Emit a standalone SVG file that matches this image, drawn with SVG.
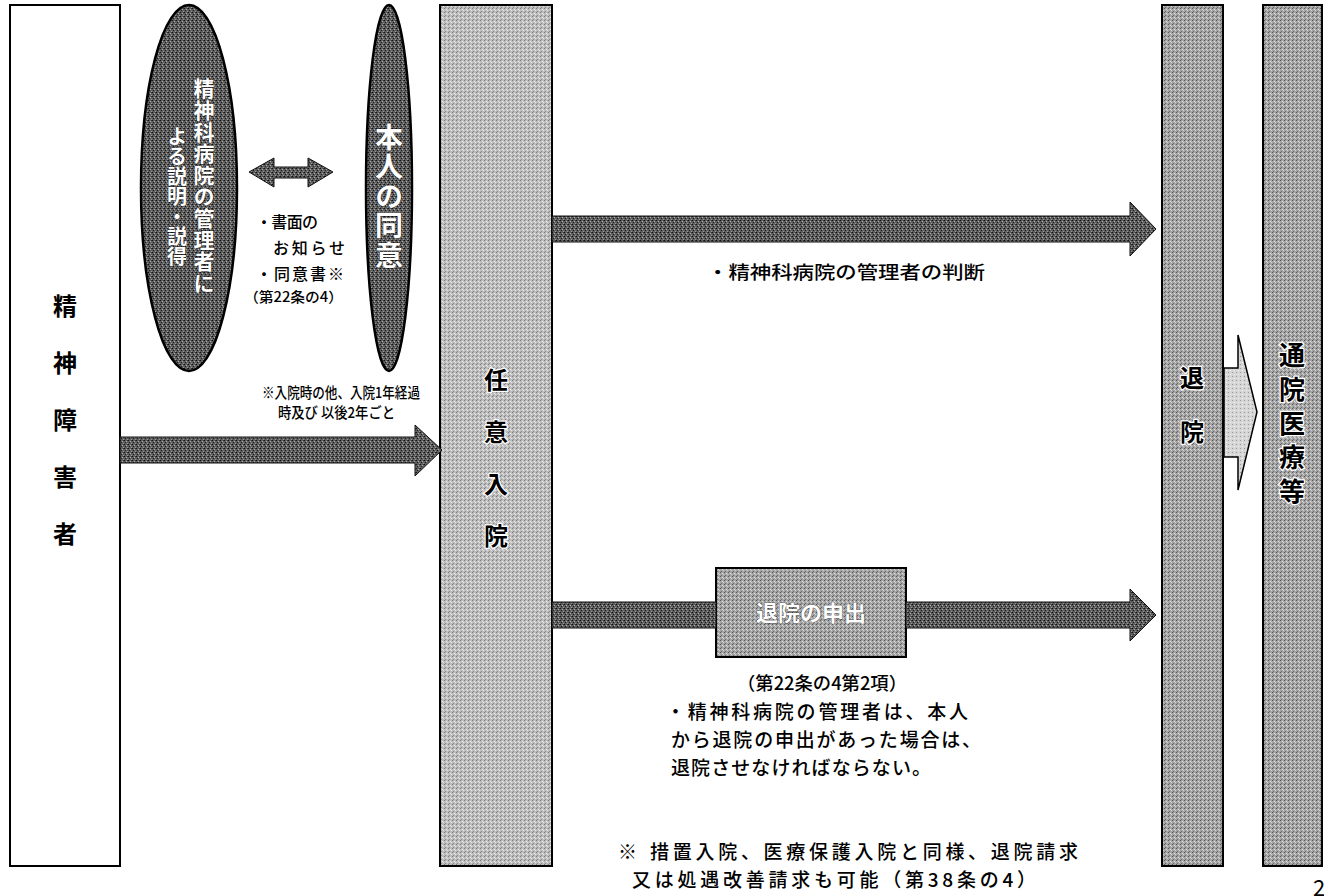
<svg xmlns="http://www.w3.org/2000/svg" width="1324" height="896" viewBox="0 0 1324 896">
<defs>
<pattern id="pDark" width="4" height="4" patternUnits="userSpaceOnUse">
<rect width="4" height="4" fill="#5e5e5e"/>
<rect x="0" y="0" width="1" height="1" fill="#111"/>
<rect x="2" y="1" width="1" height="1" fill="#b0b0b0"/>
<rect x="1" y="2" width="1" height="1" fill="#1c1c1c"/>
<rect x="3" y="3" width="1" height="1" fill="#9a9a9a"/>
<rect x="3" y="0" width="1" height="1" fill="#333"/>
</pattern>
<pattern id="pMid" width="4" height="4" patternUnits="userSpaceOnUse">
<rect width="4" height="4" fill="#a4a4a4"/>
<rect x="0" y="0" width="1" height="1" fill="#5a5a5a"/>
<rect x="2" y="1" width="1" height="1" fill="#e0e0e0"/>
<rect x="1" y="3" width="1" height="1" fill="#6a6a6a"/>
<rect x="3" y="2" width="1" height="1" fill="#d0d0d0"/>
</pattern>
<pattern id="pLight" width="4" height="4" patternUnits="userSpaceOnUse">
<rect width="4" height="4" fill="#bdbdbd"/>
<rect x="0" y="0" width="1" height="1" fill="#7a7a7a"/>
<rect x="2" y="1" width="1" height="1" fill="#eeeeee"/>
<rect x="1" y="3" width="1" height="1" fill="#8a8a8a"/>
<rect x="3" y="2" width="1" height="1" fill="#e4e4e4"/>
</pattern>
<pattern id="pPale" width="4" height="4" patternUnits="userSpaceOnUse">
<rect width="4" height="4" fill="#d6d6d6"/>
<rect x="0" y="0" width="1" height="1" fill="#999"/>
<rect x="2" y="2" width="1" height="1" fill="#f4f4f4"/>
</pattern>
</defs>
<style>
.t{font-family:"Noto Sans CJK JP","Noto Sans CJK SC",sans-serif;fill:#000;}
.m{font-weight:500;}
.b{font-weight:bold;}
.v{writing-mode:vertical-rl;text-anchor:middle;}
.w{fill:#fff;stroke:#000;stroke-width:0.5;paint-order:stroke;font-weight:bold;}
.k{fill:#000;stroke:#fff;stroke-width:2.5;paint-order:stroke;font-weight:bold;}
.box{stroke:#000;stroke-width:2;}
.arr{fill:url(#pDark);stroke:#111;stroke-width:1;}
</style>

<g id="node-seishin-shogaisha">
<rect class="box" x="10" y="5" width="110" height="861" fill="#fff" stroke-width="1.5"/>
<text class="t b v" font-size="24" letter-spacing="33" x="65" y="436">精神障害者</text>
</g>

<g id="node-setsumei">
<ellipse cx="189" cy="188" rx="48" ry="183" fill="url(#pDark)" stroke="#000" stroke-width="2.5"/>
<text class="t w v" font-size="21" letter-spacing="0.6" x="204" y="186">精神科病院の管理者に</text>
<text class="t w v" font-size="20" x="177" y="196">よる説明・説得</text>
</g>

<g id="node-honnin-doui">
<ellipse cx="389" cy="188" rx="23" ry="183" fill="url(#pDark)" stroke="#000" stroke-width="2.5"/>
<text class="t w v" font-size="28" letter-spacing="1.5" x="389" y="197">本人の同意</text>
</g>

<g id="node-nini-nyuin">
<rect class="box" x="440" y="5" width="112" height="861" fill="url(#pLight)"/>
<text class="t k v" font-size="24" letter-spacing="28" x="496" y="472">任意入院</text>
</g>

<g id="node-taiin-moushide">
<rect class="box" x="716" y="568" width="190" height="89" fill="url(#pMid)"/>
<text class="t w" font-size="22" x="811" y="621" text-anchor="middle">退院の申出</text>
</g>

<g id="node-taiin">
<rect class="box" x="1162" y="5" width="61" height="861" fill="url(#pMid)" stroke-width="2.5"/>
<text class="t k v" font-size="24" letter-spacing="30" x="1192" y="420">退院</text>
</g>

<g id="node-tsuin">
<rect class="box" x="1263" y="5" width="59" height="861" fill="url(#pMid)" stroke-width="2.5"/>
<text class="t k v" font-size="26" letter-spacing="8" x="1292" y="427">通院医療等</text>
</g>

<g id="connectors">
<path class="arr" d="M120,437 H415 V425 L442,450 L415,476 V463 H120 Z"/>
<path class="arr" d="M552,216 H1130 V202 L1156,229 L1130,256 V242 H552 Z"/>
<path class="arr" d="M552,602 H716 V628 H552 Z"/>
<path class="arr" d="M906,602 H1130 V589 L1156,615 L1130,641 V628 H906 Z"/>
<path class="arr" d="M249,172 L274,158 V167 H308 V158 L333,172 L308,187 V178 H274 V187 Z"/>
<path d="M1224,368 H1238 V335 L1257,412 L1238,490 V457 H1224 Z" fill="url(#pPale)" stroke="#000" stroke-width="1.5"/>
</g>

<g id="labels">
<text class="t m" font-size="18" x="707" y="279" textLength="278" lengthAdjust="spacingAndGlyphs">・精神科病院の管理者の判断</text>
<text class="t m" font-size="16" x="256" y="228" textLength="62">・書面の</text>
<text class="t m" font-size="16" x="273" y="254" textLength="72">お知らせ</text>
<text class="t m" font-size="16" x="256" y="280" textLength="88">・同意書※</text>
<text class="t m" font-size="14" x="244" y="302" textLength="99" lengthAdjust="spacingAndGlyphs">（第22条の4）</text>
<text class="t m" font-size="15" x="262" y="398" textLength="158" lengthAdjust="spacingAndGlyphs">※入院時の他、入院1年経過</text>
<text class="t m" font-size="15" x="278" y="418" textLength="117" lengthAdjust="spacingAndGlyphs">時及び 以後2年ごと</text>
<text class="t m" font-size="18" x="737" y="690" textLength="170" lengthAdjust="spacingAndGlyphs">（第22条の4第2項）</text>
<text class="t m" font-size="19" x="666" y="719" textLength="302">・精神科病院の管理者は、本人</text>
<text class="t m" font-size="19" x="671" y="747" textLength="310">から退院の申出があった場合は、</text>
<text class="t m" font-size="19" x="671" y="775" textLength="260">退院させなければならない。</text>
<text class="t m" font-size="19" x="618" y="859">※</text>
<text class="t m" font-size="19" x="650" y="859" textLength="428">措置入院、医療保護入院と同様、退院請求</text>
<text class="t m" font-size="19" x="632" y="887" textLength="404">又は処遇改善請求も可能（第38条の4）</text>
<text class="t" font-size="22" x="1313" y="896">2</text>
</g>
</svg>
